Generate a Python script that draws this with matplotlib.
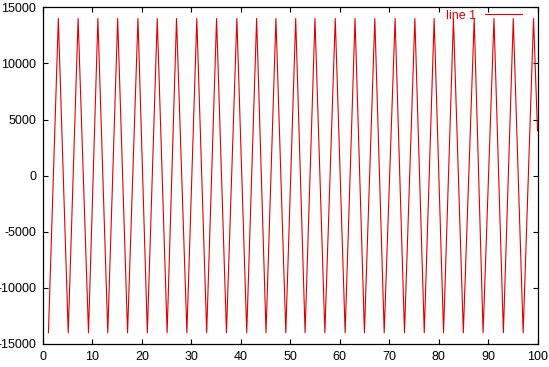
import matplotlib
matplotlib.use('Agg')
import matplotlib.pyplot as plt

plt.rcParams['font.family'] = ['Liberation Sans', 'DejaVu Sans']
plt.rcParams['axes.unicode_minus'] = False

# turning points (x of each trough / peak)
trough_x = [1.1, 5.1, 9.2, 13.1, 17.1, 21.1, 25.1, 29.1, 33.1, 37.1, 41.2, 45.1, 49.1,
            53.0, 57.0, 61.1, 65.0, 69.0, 73.1, 77.1, 81.0, 85.0, 89.0, 93.1, 97.1]
peak_x = [3.1, 7.1, 11.1, 15.1, 19.2, 23.1, 27.0, 31.1, 35.1, 39.2, 43.2, 47.1, 51.1,
          55.0, 59.1, 63.1, 67.1, 71.2, 75.2, 79.1, 83.0, 87.2, 91.2, 95.1, 99.2]
trough_y = [-14000] * len(trough_x)
peak_y = [14000] * len(peak_x)
end_x = 100
end_y = 4000

x = []
y = []
for tx, ty, px, py in zip(trough_x, trough_y, peak_x, peak_y):
    x += [tx, px]
    y += [ty, py]
x.append(end_x)
y.append(end_y)

fig = plt.figure(figsize=(5.49, 3.67), dpi=100)
ax = fig.add_axes([43 / 549, 1 - 344 / 367, 494.5 / 549, 336.7 / 367])

ax.plot(x, y, color='#e00000', linewidth=0.8, label='line 1')

ax.set_xlim(0, 100)
ax.set_ylim(-15000, 15000)
ax.set_xticks(range(0, 101, 10))
ax.set_yticks(range(-15000, 15001, 5000))
ax.tick_params(direction='in', length=3.5, width=0.8, labelsize=9,
               top=True, right=True, pad=5)
for s in ax.spines.values():
    s.set_linewidth(0.9)

leg = ax.legend(loc='center right', bbox_to_anchor=(0.968, 0.975),
                frameon=False, markerfirst=False, borderpad=0, borderaxespad=0,
                handlelength=2.9, handletextpad=0.75, fontsize=9)
for t in leg.get_texts():
    t.set_color('#e00000')

fig.savefig('out.png', dpi=100)
